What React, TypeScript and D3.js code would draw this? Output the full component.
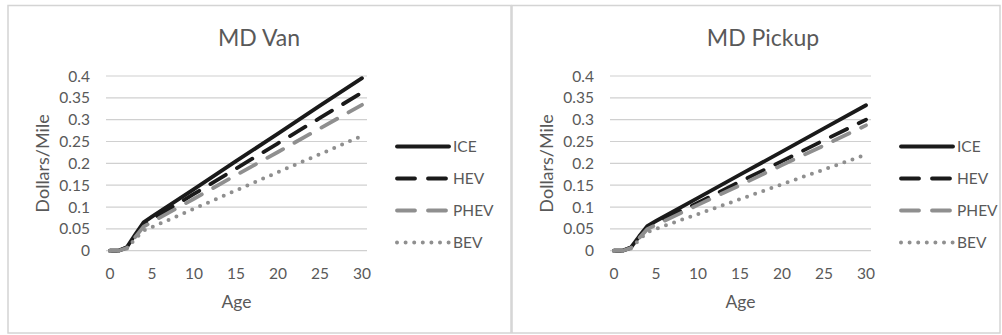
import React from "react";
import * as d3 from "d3";

const ages = [0, 1, 2, 3, 4, 5, 10, 15, 20, 25, 30];

const vanICE = [0, 0, 0.008, 0.037, 0.065, 0.078, 0.141, 0.205, 0.268, 0.332, 0.395];
const vanHEV = [0, 0, 0.007, 0.034, 0.06, 0.072, 0.13, 0.188, 0.246, 0.304, 0.362];
const vanPHEV = [0, 0, 0.006, 0.031, 0.055, 0.066, 0.119, 0.173, 0.226, 0.28, 0.334];
const vanBEV = [0, 0, 0.005, 0.027, 0.046, 0.054, 0.096, 0.138, 0.18, 0.221, 0.263];

const pickupICE = [0, 0, 0.007, 0.033, 0.057, 0.068, 0.121, 0.174, 0.227, 0.28, 0.333];
const pickupHEV = [0, 0, 0.007, 0.031, 0.053, 0.063, 0.11, 0.158, 0.205, 0.253, 0.3];
const pickupPHEV = [0, 0, 0.006, 0.029, 0.05, 0.059, 0.105, 0.15, 0.196, 0.241, 0.287];
const pickupBEV = [0, 0, 0.005, 0.025, 0.043, 0.05, 0.084, 0.118, 0.152, 0.186, 0.22];

const seriesNames = ["ICE", "HEV", "PHEV", "BEV"];
const yTicks = [0, 0.05, 0.1, 0.15, 0.2, 0.25, 0.3, 0.35, 0.4];
const xTicks = [0, 5, 10, 15, 20, 25, 30];

const styles: Record<string, { color: string; width: number; dash?: string; cap: string }> = {
  ICE: { color: "#1a1a1a", width: 3.8, cap: "round" },
  HEV: { color: "#1a1a1a", width: 3.8, dash: "18,13", cap: "round" },
  PHEV: { color: "#8f8f8f", width: 3.8, dash: "18,13", cap: "round" },
  BEV: { color: "#8f8f8f", width: 4, dash: "0,8.6", cap: "round" },
};

const FONT = "Lato, 'Open Sans', sans-serif";
const TEXT = "#595959";

type PanelProps = {
  title: string;
  ox: number;
  boxW: number;
  data: number[][];
};

function Panel({ title, ox, boxW, data }: PanelProps) {
  const x0 = ox + 110 - 8;
  const gridL = ox + 106 - 8;
  const gridR = ox + 367 - 8;
  const x = d3.scaleLinear().domain([0, 30]).range([x0, x0 + 252]);
  const y = d3.scaleLinear().domain([0, 0.4]).range([250.7, 76]);
  const line = d3
    .line<[number, number]>()
    .x((d) => x(d[0]))
    .y((d) => y(d[1]));
  const legX = ox + 397 - 8;
  const legY = [146.5, 178.5, 210.5, 242.5];
  const plotCx = (gridL + gridR) / 2;
  return (
    <g>
      <rect x={ox} y={5.5} width={boxW} height={327.5} fill="#fff" stroke="#d4d4d4" strokeWidth={1.5} />
      <text x={ox + 250 - 8 + 9} y={45.5} textAnchor="middle" fontFamily={FONT} fontSize={23} fill={TEXT}>
        {title}
      </text>
      {yTicks.map((t) => (
        <g key={t}>
          <line x1={gridL} x2={gridR} y1={y(t)} y2={y(t)} stroke="#d0d0d0" strokeWidth={1.2} />
          <text x={gridL - 16} y={y(t) + 5.5} textAnchor="end" fontFamily={FONT} fontSize={15.5} fill={TEXT}>
            {t}
          </text>
        </g>
      ))}
      {xTicks.map((t) => (
        <text key={t} x={x(t)} y={278.5} textAnchor="middle" fontFamily={FONT} fontSize={15.5} fill={TEXT}>
          {t}
        </text>
      ))}
      <text x={plotCx} y={307.5} textAnchor="middle" fontFamily={FONT} fontSize={17.5} fill={TEXT}>
        Age
      </text>
      <text
        transform={`translate(${ox + 49 - 8},${163.5}) rotate(-90)`}
        textAnchor="middle"
        fontFamily={FONT}
        fontSize={18}
        fill={TEXT}
      >
        Dollars/Mile
      </text>
      {seriesNames.map((name, i) => {
        const s = styles[name];
        const pts = ages.map((a, j) => [a, data[i][j]] as [number, number]);
        return (
          <path
            key={name}
            d={line(pts) || ""}
            fill="none"
            stroke={s.color}
            strokeWidth={s.width}
            strokeDasharray={s.dash}
            strokeLinecap={s.cap as any}
            strokeLinejoin="round"
          />
        );
      })}
      {seriesNames.map((name, i) => {
        const s = styles[name];
        return (
          <g key={name}>
            <line
              x1={legX}
              x2={legX + 52}
              y1={legY[i]}
              y2={legY[i]}
              stroke={s.color}
              strokeWidth={s.width}
              strokeDasharray={s.dash}
              strokeLinecap={s.cap as any}
            />
            <text x={legX + 56} y={legY[i] + 5.5} fontFamily={FONT} fontSize={15.5} fill={TEXT}>
              {name}
            </text>
          </g>
        );
      })}
    </g>
  );
}

export default function App() {
  return (
    <svg
      width={1002}
      height={335}
      style={{ position: "absolute", left: 0, top: 0, background: "#fff" }}
    >
      <rect x={0} y={0} width={1002} height={335} fill="#fff" />
      <Panel title="MD Van" ox={8} boxW={503} data={[vanICE, vanHEV, vanPHEV, vanBEV]} />
      <Panel title="MD Pickup" ox={512} boxW={488} data={[pickupICE, pickupHEV, pickupPHEV, pickupBEV]} />
    </svg>
  );
}
